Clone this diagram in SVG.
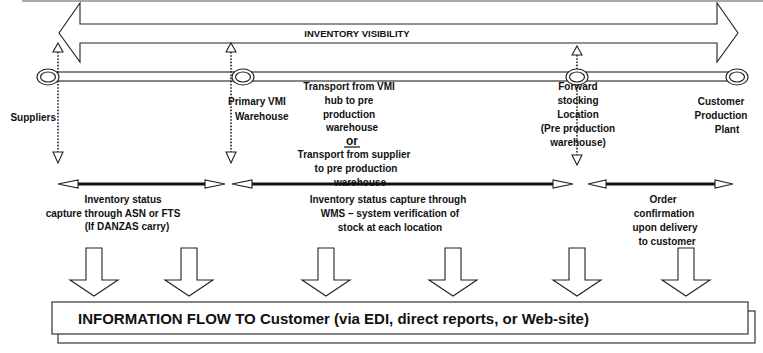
<svg xmlns="http://www.w3.org/2000/svg" width="763" height="353" viewBox="0 0 763 353">
<style>
.ln{fill:none;stroke:#222;stroke-width:1.2}
.wf{fill:#fff;stroke:#222;stroke-width:1.1}
.dot{fill:none;stroke:#222;stroke-width:1.6;stroke-dasharray:1.6 1.6}
.thk{fill:none;stroke:#111;stroke-width:3}
text{font-family:"Liberation Sans",Arial,sans-serif;font-weight:bold;font-size:10px;fill:#111}
.c{text-anchor:middle}
.big{font-size:15px}
</style>
<defs>
<g id="dn"><polygon class="wf" points="-8,0 8,0 8,32 24,32 0,48 -24,32 -8,32"/></g>
<g id="ring"><ellipse class="wf" cx="0" cy="0" rx="11" ry="8"/><ellipse class="ln" cx="0" cy="0" rx="7.5" ry="5" stroke-width="1"/></g>
</defs>
<rect width="763" height="353" fill="#fff"/>
<line x1="22" y1="1" x2="763" y2="1" stroke="#555" stroke-width="1"/>
<g id="visibility">
<polygon class="wf" points="59,33 80,3 80,24 717,24 717,3 738,33 717,62 717,43 80,43 80,62"/>
<text x="357" y="37" class="c" style="font-size:9.5px">INVENTORY VISIBILITY</text>
</g>
<g id="connectors">
<rect class="wf" x="48" y="72" width="689" height="9"/>
<line class="dot" x1="58" y1="52" x2="58" y2="152"/>
<polygon class="wf" points="58,43 63,52 53,52"/>
<polygon class="wf" points="53,152 63,152 58,163"/>
<line class="dot" x1="231" y1="52" x2="231" y2="152"/>
<polygon class="wf" points="231,43 236,52 226,52"/>
<polygon class="wf" points="226,152 236,152 231,163"/>
<line class="dot" x1="577" y1="55" x2="577" y2="155"/>
<polygon class="wf" points="577,46 582,55 572,55"/>
<polygon class="wf" points="572,155 582,155 577,165"/>
<line class="thk" x1="78" y1="184" x2="205" y2="184"/>
<polygon class="wf" points="58,184 78,180 78,188"/>
<polygon class="wf" points="225,184 205,180 205,188"/>
<line class="thk" x1="252" y1="184" x2="553" y2="184"/>
<polygon class="wf" points="232,184 252,180 252,188"/>
<polygon class="wf" points="573,184 553,180 553,188"/>
<line class="thk" x1="606" y1="184" x2="715" y2="184"/>
<polygon class="wf" points="588,184 606,180 606,188"/>
<polygon class="wf" points="733,184 715,180 715,188"/>
<use href="#dn" x="94" y="248"/>
<use href="#dn" x="189" y="248"/>
<use href="#dn" x="326" y="248"/>
<use href="#dn" x="453" y="248"/>
<use href="#dn" x="577" y="248"/>
<use href="#dn" x="686" y="248"/>
</g>
<g id="suppliers"><use href="#ring" x="48" y="77"/><text x="56" y="121" text-anchor="end">Suppliers</text></g>
<g id="primary-vmi"><use href="#ring" x="243" y="77"/><text x="228" y="105">Primary VMI</text><text x="235" y="120">Warehouse</text></g>
<g id="forward-stocking"><use href="#ring" x="577" y="77"/>
<text class="c" x="578" y="90">Forward</text><text class="c" x="578" y="104">stocking</text><text class="c" x="578" y="118">Location</text><text class="c" x="578" y="132">(Pre production</text><text class="c" x="578" y="146">warehouse)</text></g>
<g id="customer-plant"><use href="#ring" x="737" y="77"/>
<text class="c" x="721" y="105">Customer</text><text class="c" x="721" y="119">Production</text><text class="c" x="727" y="133">Plant</text></g>
<g id="transport">
<text class="c" x="349" y="90">Transport from VMI</text><text class="c" x="349" y="104">hub to pre</text><text class="c" x="349" y="118">production</text><text class="c" x="352" y="131">warehouse</text>
<text class="c" x="352" y="145" style="font-size:12px">or</text><line x1="344" y1="147" x2="360" y2="147" stroke="#111" stroke-width="1.2"/>
<text class="c" x="354" y="158">Transport from supplier</text><text class="c" x="356" y="172">to pre production</text><text class="c" x="360" y="186">warehouse</text>
</g>
<g id="status-asn">
<text class="c" x="123" y="203">Inventory status</text><text class="c" x="113" y="217">capture through ASN or FTS</text><text class="c" x="127" y="230">(If DANZAS carry)</text>
</g>
<g id="status-wms">
<text class="c" x="388" y="203">Inventory status capture through</text><text class="c" x="390" y="217">WMS – system verification of</text><text class="c" x="390" y="231">stock at each location</text>
</g>
<g id="order-confirmation">
<text class="c" x="663" y="203">Order</text><text class="c" x="664" y="217">confirmation</text><text class="c" x="665" y="231">upon delivery</text><text class="c" x="667" y="245">to customer</text>
</g>
<g id="info-flow">
<rect class="wf" x="58" y="311" width="697" height="32"/>
<rect class="wf" x="52" y="302" width="696" height="32"/>
<text x="78" y="324" class="big">INFORMATION FLOW TO Customer (via EDI, direct reports, or Web-site)</text>
</g>
</svg>
